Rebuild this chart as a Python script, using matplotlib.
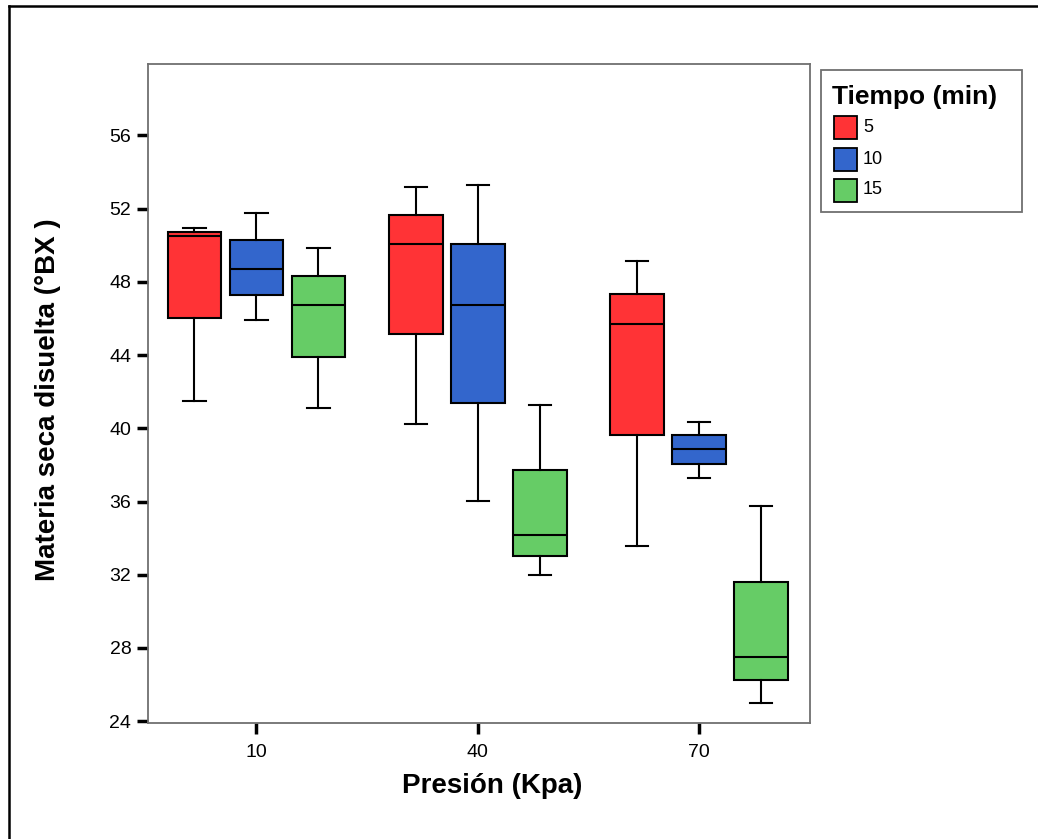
import matplotlib
matplotlib.use("Agg")
import matplotlib.pyplot as plt
from matplotlib.patches import Rectangle
from matplotlib.lines import Line2D

plt.rcParams['font.family'] = ['Liberation Sans', 'DejaVu Sans']

presion = ["10", "40", "70"]
tiempos = ["5", "10", "15"]
colors = ["#FF3336", "#3366CC", "#66CC66"]

# five-number summaries per (presion, tiempo): whislo, q1, med, q3, whishi
whislo = {"5": [41.5, 40.24, 33.56], "10": [45.9, 36.05, 37.3], "15": [41.1, 32.0, 25.0]}
q1 = {"5": [46.0, 45.17, 39.63], "10": [47.27, 41.4, 38.07], "15": [43.9, 33.05, 26.24]}
med = {"5": [50.5, 50.07, 45.7], "10": [48.7, 46.73, 38.88], "15": [46.73, 34.17, 27.5]}
q3 = {"5": [50.7, 51.66, 47.34], "10": [50.3, 50.07, 39.63], "15": [48.3, 37.73, 31.59]}
whishi = {"5": [50.93, 53.2, 49.12], "10": [51.76, 53.3, 40.34], "15": [49.85, 41.27, 35.73]}

W, H = 1038, 839
fig = plt.figure(figsize=(W / 100, H / 100), dpi=100)
ax_l, ax_r, ax_t, ax_b = 148, 810, 64, 723
ax = fig.add_axes([ax_l / W, 1 - ax_b / H, (ax_r - ax_l) / W, (ax_b - ax_t) / H])

offsets = [-0.28, 0.0, 0.28]
for t, off, col in zip(tiempos, offsets, colors):
    stats = []
    for i in range(len(presion)):
        stats.append(dict(whislo=whislo[t][i], q1=q1[t][i], med=med[t][i],
                          q3=q3[t][i], whishi=whishi[t][i], fliers=[]))
    pos = [i + off for i in range(len(presion))]
    ax.bxp(stats, positions=pos, widths=0.243, capwidths=0.1, patch_artist=True,
           showfliers=False, manage_ticks=False,
           boxprops=dict(facecolor=col, edgecolor='black', linewidth=1.5),
           medianprops=dict(color='black', linewidth=1.5),
           whiskerprops=dict(color='black', linewidth=1.5),
           capprops=dict(color='black', linewidth=1.5))

ax.set_xlim(-0.49, 2.5)
ax.set_ylim(23.9, 59.9)
ax.set_xticks(range(len(presion)))
ax.set_xticklabels(presion)
ax.set_yticks([24, 28, 32, 36, 40, 44, 48, 52, 56])
ax.tick_params(axis='both', labelsize=14, width=2.5, length=8, color='black')
ax.tick_params(axis='x', pad=7)
ax.tick_params(axis='y', pad=4)
for s in ax.spines.values():
    s.set_color('#707070')
    s.set_linewidth(1.3)

axw, axh = ax_r - ax_l, ax_b - ax_t
ax.set_xlabel("Presión (Kpa)", fontsize=20, fontweight='bold')
ax.xaxis.set_label_coords((492 - ax_l) / axw, -(786 - ax_b) / axh)
ax.xaxis.label.set_va('center')
ax.set_ylabel("Materia seca disuelta (°BX )", fontsize=20, fontweight='bold')
ax.yaxis.set_label_coords(-(ax_l - 48) / axw, (ax_b - 400) / axh)
ax.yaxis.label.set_va('center')

# legend box drawn in figure pixel coordinates
def fx(x):
    return x / W

def fy(y):
    return 1 - y / H

fig.add_artist(Rectangle((fx(821), fy(212)), fx(1022) - fx(821), fy(70) - fy(212),
                         facecolor='white', edgecolor='#707070', linewidth=1.3,
                         transform=fig.transFigure))
fig.text(fx(832), fy(97), "Tiempo (min)", fontsize=19, fontweight='bold',
         ha='left', va='center')
item_y = [127, 159, 190]
for lab, col, yc in zip(tiempos, colors, item_y):
    fig.add_artist(Rectangle((fx(834), fy(yc + 11.5)), fx(857) - fx(834), 23 / H,
                             facecolor=col, edgecolor='black', linewidth=1.3,
                             transform=fig.transFigure))
    fig.text(fx(863), fy(yc), lab, fontsize=13, ha='left', va='center')

# outer border (top and left)
fig.add_artist(Line2D([fx(9), fx(9)], [0, fy(6)], color='black', linewidth=1.8,
                      transform=fig.transFigure))
fig.add_artist(Line2D([fx(9), 1], [fy(6), fy(6)], color='black', linewidth=1.8,
                      transform=fig.transFigure))

fig.savefig("out.png", dpi=100)
